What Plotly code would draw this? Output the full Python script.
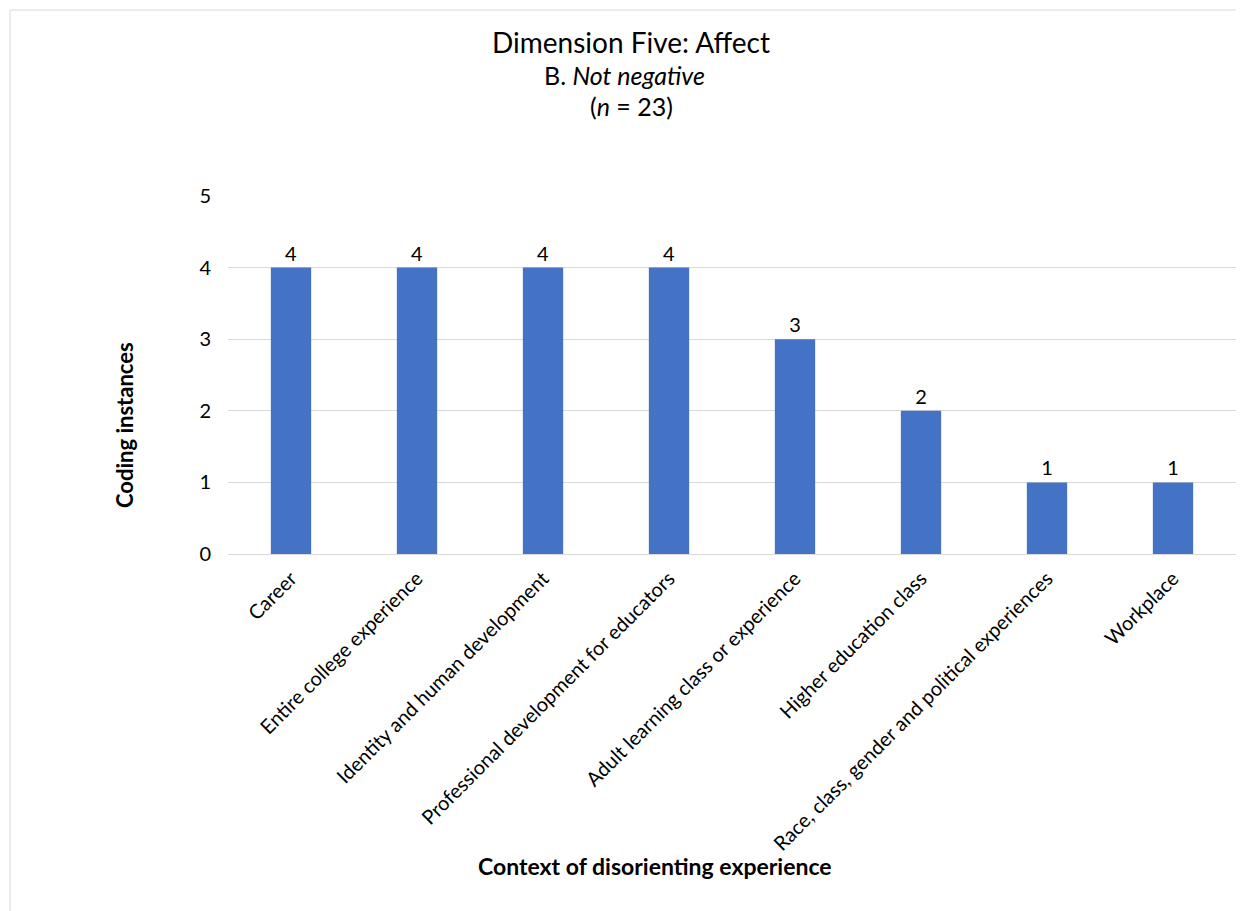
import plotly.graph_objects as go

categories = [
    "Career",
    "Entire college experience",
    "Identity and human development",
    "Professional development for educators",
    "Adult learning class or experience",
    "Higher education class",
    "Race, class, gender and political experiences",
    "Workplace",
]
values = [4, 4, 4, 4, 3, 2, 1, 1]
y_ticks = [0, 1, 2, 3, 4, 5]

OFF = 8  # page body margin
W, H = 1244 - OFF, 911 - OFF
L, R, T = 228 - OFF, 8, 196 - OFF
B = H - (554 - OFF)
pw, ph = W - L - R, H - T - B

def px(x):
    return (x - OFF - L) / pw

def py(y):
    return (H - B - (y - OFF)) / ph

FONT = "Lato, Carlito, Calibri, sans-serif"

fig = go.Figure(
    go.Bar(
        x=categories,
        y=values,
        marker=dict(color="#4472C4", line=dict(width=0)),
        text=[str(v) for v in values],
        textposition="outside",
        textfont=dict(size=20, color="#000000", family=FONT),
        cliponaxis=False,
        width=0.32,
    )
)

fig.update_layout(
    width=W,
    height=H,
    margin=dict(l=L, r=R, t=T, b=B),
    paper_bgcolor="white",
    plot_bgcolor="white",
    showlegend=False,
    font=dict(family=FONT, color="#000000"),
    xaxis=dict(
        tickangle=-45,
        tickfont=dict(size=20, color="#000000", family=FONT),
        showline=True,
        linecolor="#d9d9d9",
        linewidth=1,
        ticks="outside",
        ticklen=4,
        tickcolor="rgba(0,0,0,0)",
        automargin=False,
    ),
    yaxis=dict(
        range=[0, 5],
        tickvals=y_ticks,
        tickfont=dict(size=20, color="#000000", family=FONT),
        showgrid=True,
        gridcolor="#d9d9d9",
        zeroline=False,
        showline=False,
        ticks="outside",
        ticklen=12,
        tickcolor="rgba(0,0,0,0)",
        automargin=False,
    ),
    annotations=[
        dict(text="Dimension Five: Affect", x=px(631), y=py(42), xref="paper", yref="paper",
             showarrow=False, font=dict(size=28, family=FONT), xanchor="center", yanchor="middle"),
        dict(text="B. <i>Not negative</i>", x=px(624), y=py(75), xref="paper", yref="paper",
             showarrow=False, font=dict(size=25, family=FONT), xanchor="center", yanchor="middle"),
        dict(text="(<i>n</i> = 23)", x=px(631), y=py(106), xref="paper", yref="paper",
             showarrow=False, font=dict(size=25, family=FONT), xanchor="center", yanchor="middle"),
        dict(text="<b>Context of disorienting experience</b>", x=px(655), y=py(866), xref="paper", yref="paper",
             showarrow=False, font=dict(size=23, family=FONT), xanchor="center", yanchor="middle"),
        dict(text="<b>Coding instances</b>", x=px(124), y=py(425), xref="paper", yref="paper",
             showarrow=False, font=dict(size=22, family=FONT), textangle=-90, xanchor="center", yanchor="middle"),
    ],
    shapes=[
        dict(type="rect", xref="paper", yref="paper",
             x0=px(10), x1=px(1240), y0=py(960), y1=py(10),
             line=dict(color="#d9d9d9", width=1), fillcolor="rgba(0,0,0,0)", layer="below"),
    ],
)

fig.write_html("out.html")
